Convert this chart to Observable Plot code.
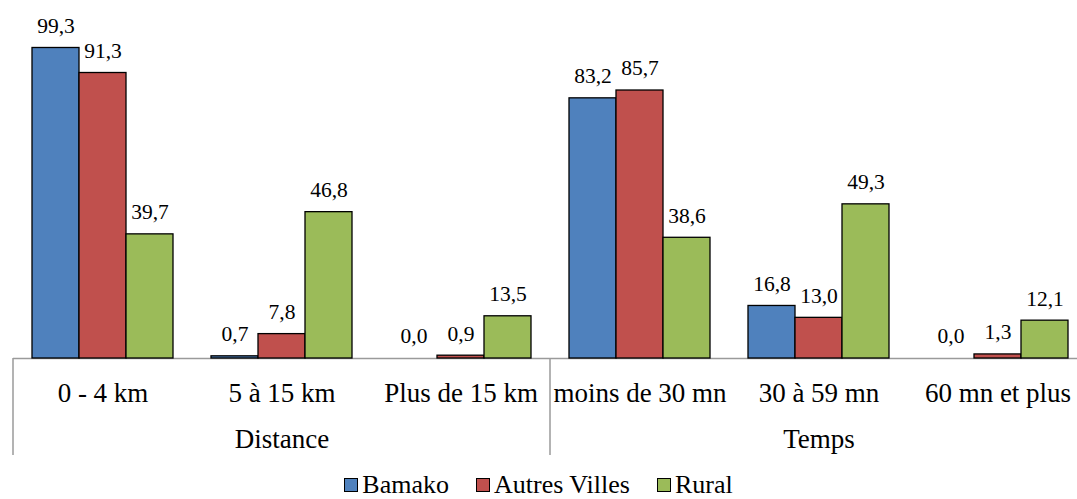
<!DOCTYPE html>
<html>
<head>
<meta charset="utf-8">
<script src="https://cdn.jsdelivr.net/npm/d3@7"></script>
<script src="https://cdn.jsdelivr.net/npm/@observablehq/plot@0.6"></script>
<style>
  html, body { margin: 0; padding: 0; background: #fff; overflow: hidden; }
  body { width: 1077px; height: 499px; font-family: "Liberation Serif", "DejaVu Serif", serif; }
  #legend { display: flex; justify-content: center; align-items: center; gap: 27px; padding-top: 12px; font-size: 26px; line-height: 26px; color: #000; }
  .item { display: flex; align-items: center; gap: 4px; }
  .sw { width: 12px; height: 12px; border: 1.5px solid #000; display: inline-block; }
</style>
</head>
<body>
<div id="chart"></div>
<div id="legend"></div>
<script>
const categories = ["0 - 4 km", "5 à 15 km", "Plus de 15 km", "moins de 30 mn", "30 à 59 mn", "60 mn et plus"];
const groupNames = ["Distance", "Temps"];
const groupMembers = [[0, 1, 2], [3, 4, 5]];
const series = ["Bamako", "Autres Villes", "Rural"];
const bamako = [99.3, 0.7, 0.0, 83.2, 16.8, 0.0];
const autresVilles = [91.3, 7.8, 0.9, 85.7, 13.0, 1.3];
const rural = [39.7, 46.8, 13.5, 38.6, 49.3, 12.1];
const colors = ["#4F81BD", "#C0504D", "#9BBB59"];

const seriesValues = [bamako, autresVilles, rural];
const data = [];
categories.forEach((cat, i) => {
  series.forEach((s, j) => data.push({cat, series: s, value: seriesValues[j][i]}));
});
const groupData = groupNames.map((g, k) => ({name: g, mid: categories[groupMembers[k][1]], first: categories[groupMembers[k][0]]}));
const fmt = v => d3.format(".1f")(v).replace(".", ",");
const serif = "Liberation Serif, DejaVu Serif, serif";

const plot = Plot.plot({
  width: 1077,
  height: 460,
  marginLeft: 11,
  marginRight: -11,
  marginTop: 45.3,
  marginBottom: 102,
  style: {fontFamily: serif, background: "#fff", color: "#000"},
  fx: {domain: categories, padding: 0, axis: null},
  x: {domain: series, paddingInner: 0, paddingOuter: 0.37, axis: null},
  y: {domain: [0, 100], axis: null},
  color: {domain: series, range: colors},
  marks: [
    Plot.ruleY([0], {stroke: "#9a9a9a", strokeWidth: 1.5}),
    Plot.barY(data, {fx: "cat", x: "series", y: "value", fill: "series", stroke: "#000", strokeWidth: 1.3, filter: d => d.value > 0}),
    Plot.text(data, {fx: "cat", x: "series", y: "value", text: d => fmt(d.value), dy: -22, lineAnchor: "middle", fontSize: 21.5, fontFamily: serif, fill: "#000"}),
    Plot.text(categories, {fx: d => d, text: d => d, frameAnchor: "bottom", dy: 35, lineAnchor: "middle", fontSize: 27, fontFamily: serif, fill: "#000"}),
    Plot.text(groupData, {fx: "mid", text: "name", frameAnchor: "bottom", dy: 81, lineAnchor: "middle", fontSize: 27, fontFamily: serif, fill: "#000"})
  ]
});
document.getElementById("chart").appendChild(plot);

// group separators on the category axis, positioned from the library's scales
const fxs = plot.scale("fx");
const ys = plot.scale("y");
const fxPos = c => fxs.apply ? fxs.apply(c) : fxs.range[0] + fxs.domain.indexOf(c) * (fxs.range[1] - fxs.range[0]) / fxs.domain.length;
const y0 = ys.apply ? ys.apply(0) : 358;
const sep = d3.select(plot).append("g").attr("stroke", "#9a9a9a").attr("stroke-width", 1.5);
groupData.forEach(g => {
  const x = fxPos(g.first);
  sep.append("line").attr("x1", x).attr("x2", x).attr("y1", y0).attr("y2", y0 + 97);
});

const legend = document.getElementById("legend");
series.forEach((s, j) => {
  const it = document.createElement("span");
  it.className = "item";
  it.innerHTML = `<span class="sw" style="background:${colors[j]}"></span><span>${s}</span>`;
  legend.appendChild(it);
});
</script>
</body>
</html>
